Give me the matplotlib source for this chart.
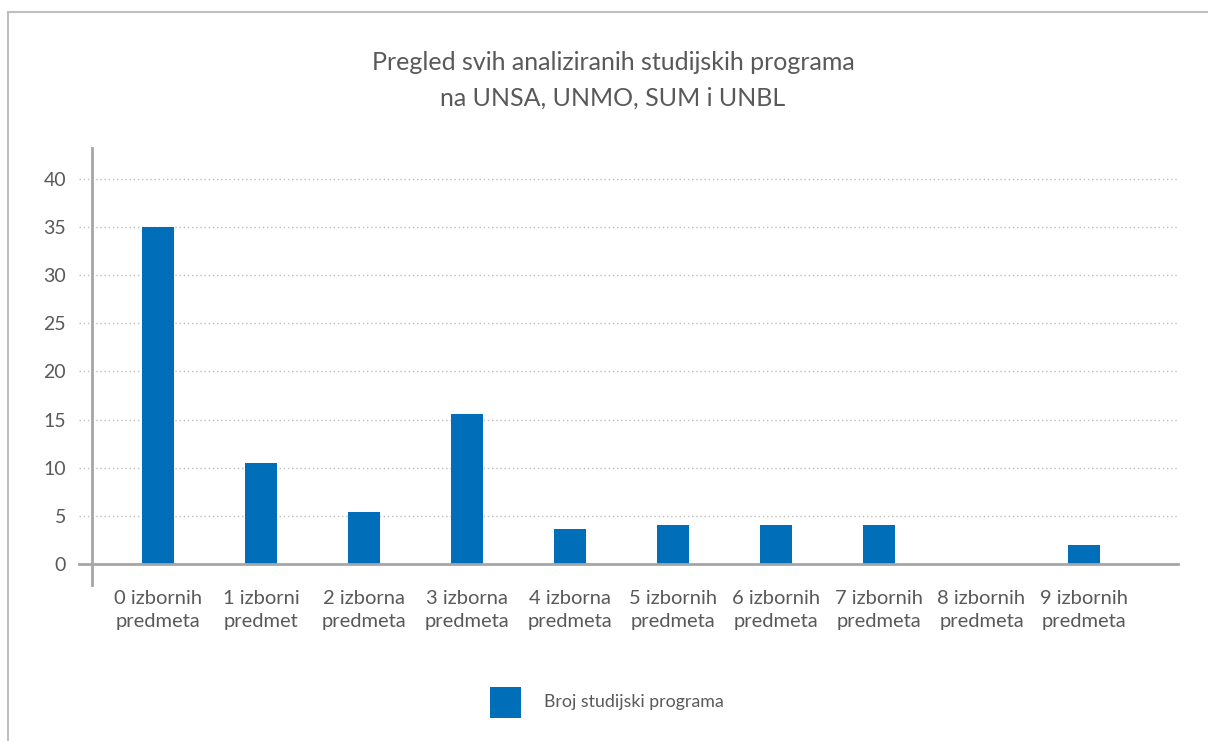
import matplotlib
matplotlib.use("Agg")
import matplotlib.pyplot as plt
from matplotlib.patches import Rectangle

categories = ["0 izbornih\npredmeta", "1 izborni\npredmet", "2 izborna\npredmeta",
              "3 izborna\npredmeta", "4 izborna\npredmeta", "5 izbornih\npredmeta",
              "6 izbornih\npredmeta", "7 izbornih\npredmeta", "8 izbornih\npredmeta",
              "9 izbornih\npredmeta"]
values = [35, 10.5, 5.4, 15.6, 3.6, 4.0, 4.1, 4.1, 0, 2.0]
yticks = [0, 5, 10, 15, 20, 25, 30, 35, 40]
series_name = "Broj studijski programa"
title = "Pregled svih analiziranih studijskih programa\nna UNSA, UNMO, SUM i UNBL"

BLUE = "#006EB9"
TXT = "#595959"
AX = "#A6A6A6"
plt.rcParams['font.family'] = ['Lato', 'DejaVu Sans']

W, H = 1208, 741
fig = plt.figure(figsize=(W / 100, H / 100), dpi=100)

# frame border
fig.patches.append(Rectangle((8 / W, -0.05), 1.1, 1 - 12 / H + 0.05, transform=fig.transFigure,
                             fill=False, edgecolor="#BFBFBF", linewidth=1.5))

# axes from x=79 to 1178, y from 148 to 585
ax = fig.add_axes([79 / W, 1 - 585 / H, (1178 - 79) / W, (585 - 148) / H])
x = list(range(len(categories)))
ax.bar(x, values, width=0.31, color=BLUE, zorder=3)

ax.set_xlim(-0.77, 9.91)
ax.set_ylim(-2.18, 43.2)
ax.set_yticks(yticks)
ax.set_yticklabels([str(t) for t in yticks])
ax.set_xticks(x)
ax.set_xticklabels(categories)

for s in ["top", "right"]:
    ax.spines[s].set_visible(False)
ax.spines["left"].set_position(("data", -0.64))
ax.spines["bottom"].set_position(("data", 0))
ax.spines["left"].set_color(AX)
ax.spines["bottom"].set_color(AX)
ax.spines["left"].set_linewidth(2)
ax.spines["bottom"].set_linewidth(2)
ax.spines["bottom"].set_zorder(4)

ax.yaxis.grid(True, linestyle=(0, (1, 2)), color="#BFBFBF", linewidth=1, zorder=0)
ax.tick_params(axis="y", length=0, pad=19, labelsize=14, labelcolor=TXT)
ax.tick_params(axis="x", length=0, pad=19, labelsize=14.5, labelcolor=TXT)
for lbl in ax.get_xticklabels():
    lbl.set_linespacing(1.4)

fig.text(613 / W, 1 - 80 / H, title, ha="center", va="center", fontsize=18,
         color=TXT, linespacing=1.65)

fig.patches.append(Rectangle((490 / W, 1 - 718 / H), 31 / W, 31 / H,
                             transform=fig.transFigure, facecolor=BLUE, edgecolor="none"))
fig.text(544 / W, 1 - 702 / H, series_name, ha="left", va="center", fontsize=12.8, color=TXT)

fig.savefig("out.png", dpi=100)
